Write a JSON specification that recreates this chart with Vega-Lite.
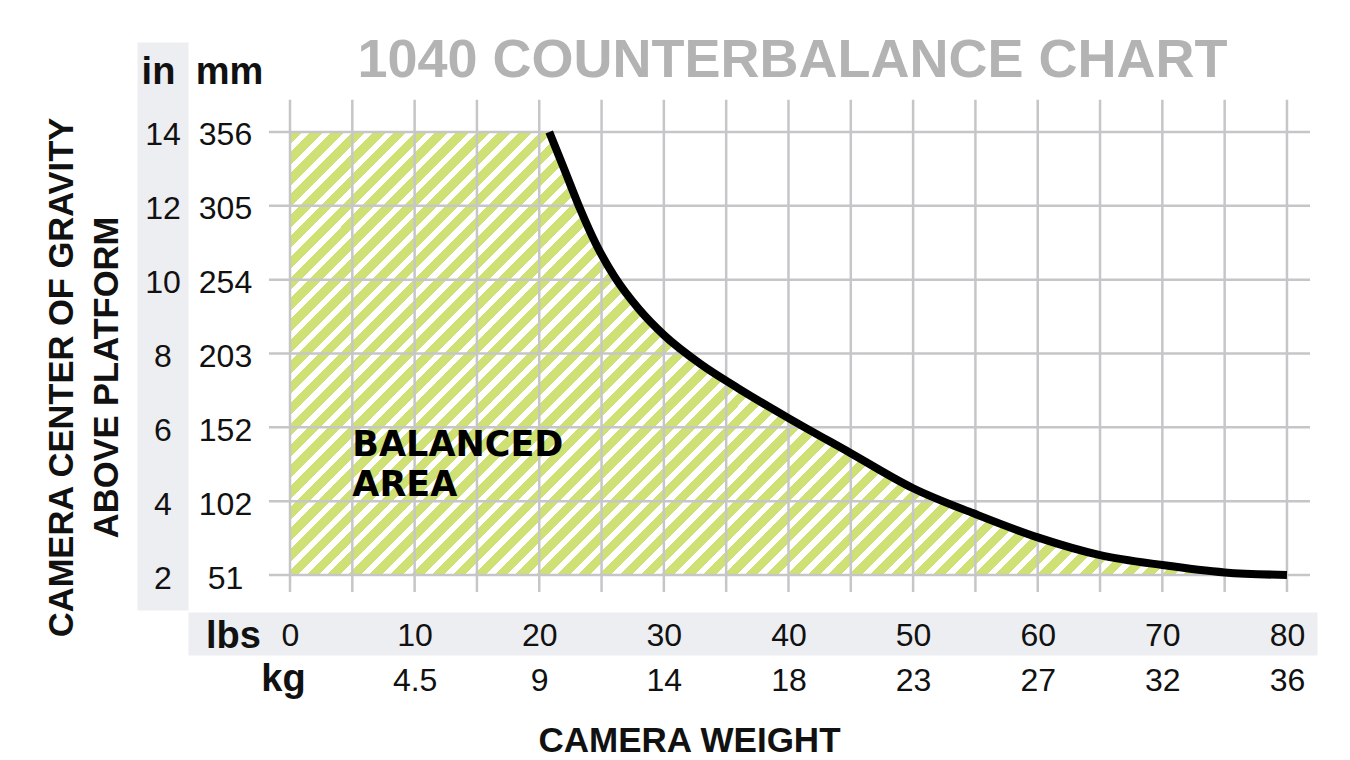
{
  "$schema": "https://vega.github.io/schema/vega-lite/v6.json",
  "width": 1129,
  "height": 568,
  "autosize": {"type": "none"},
  "padding": {"left": 188, "top": 42, "right": 33, "bottom": 150},
  "background": "white",
  "config": {
    "view": {"stroke": null},
    "font": "Liberation Sans",
    "axis": {
      "grid": false, "ticks": false, "tickSize": 0, "domain": false,
      "labelFont": "Liberation Sans", "labelFontSize": 32, "labelColor": "#111111",
      "labelOverlap": false, "labelFlush": false, "labelBound": false,
      "titleFont": "Liberation Sans", "titleColor": "#111111", "titleFontWeight": "bold"
    }
  },
  "title": {
    "text": "1040 COUNTERBALANCE CHART",
    "font": "Liberation Sans", "fontSize": 54, "fontWeight": "bold", "color": "#b3b3b3",
    "anchor": "middle", "frame": "group", "dx": 40, "offset": -46
  },
  "datasets": {
    "curve": [
      {"lbs": 20.8, "inch": 14}, {"lbs": 22, "inch": 13}, {"lbs": 23.3, "inch": 11.9},
      {"lbs": 24.5, "inch": 11}, {"lbs": 26, "inch": 10.1}, {"lbs": 28, "inch": 9.2},
      {"lbs": 30, "inch": 8.5}, {"lbs": 33, "inch": 7.7}, {"lbs": 36, "inch": 7.05},
      {"lbs": 40, "inch": 6.25}, {"lbs": 45, "inch": 5.3}, {"lbs": 50, "inch": 4.35},
      {"lbs": 55, "inch": 3.65}, {"lbs": 60, "inch": 3.02}, {"lbs": 65, "inch": 2.54},
      {"lbs": 70, "inch": 2.27}, {"lbs": 75, "inch": 2.07}, {"lbs": 80, "inch": 2.0}
    ],
    "area": [
      {"lbs": 0, "inch": 14},
      {"lbs": 20.8, "inch": 14}, {"lbs": 22, "inch": 13}, {"lbs": 23.3, "inch": 11.9},
      {"lbs": 24.5, "inch": 11}, {"lbs": 26, "inch": 10.1}, {"lbs": 28, "inch": 9.2},
      {"lbs": 30, "inch": 8.5}, {"lbs": 33, "inch": 7.7}, {"lbs": 36, "inch": 7.05},
      {"lbs": 40, "inch": 6.25}, {"lbs": 45, "inch": 5.3}, {"lbs": 50, "inch": 4.35},
      {"lbs": 55, "inch": 3.65}, {"lbs": 60, "inch": 3.02}, {"lbs": 65, "inch": 2.54},
      {"lbs": 70, "inch": 2.27}, {"lbs": 75, "inch": 2.07}, {"lbs": 80, "inch": 2.0}
    ],
    "vgrid": [
      {"lbs": 0}, {"lbs": 5}, {"lbs": 10}, {"lbs": 15}, {"lbs": 20}, {"lbs": 25}, {"lbs": 30},
      {"lbs": 35}, {"lbs": 40}, {"lbs": 45}, {"lbs": 50}, {"lbs": 55}, {"lbs": 60}, {"lbs": 65},
      {"lbs": 70}, {"lbs": 75}, {"lbs": 80}
    ],
    "hgrid": [
      {"inch": 2}, {"inch": 4}, {"inch": 6}, {"inch": 8}, {"inch": 10}, {"inch": 12}, {"inch": 14}
    ],
    "note": [
      {"lbs": 5, "inch": 5, "label": "BALANCED\nAREA"}
    ]
  },
  "resolve": {"axis": {"x": "independent", "y": "independent"}},
  "layer": [
    {
      "data": {"name": "area"},
      "mark": {
        "type": "area", "interpolate": "monotone",
        "fill": {
          "gradient": "linear", "x1": 0, "y1": 0, "x2": 1.2062, "y2": 0.5359,
          "stops": [
{"offset":0,"color":"#cfe074"},{"offset":0.0087,"color":"#cfe074"},{"offset":0.0087,"color":"#fff"},{"offset":0.0145,"color":"#fff"},
{"offset":0.0145,"color":"#cfe074"},{"offset":0.0232,"color":"#cfe074"},{"offset":0.0232,"color":"#fff"},{"offset":0.0290,"color":"#fff"},
{"offset":0.0290,"color":"#cfe074"},{"offset":0.0377,"color":"#cfe074"},{"offset":0.0377,"color":"#fff"},{"offset":0.0435,"color":"#fff"},
{"offset":0.0435,"color":"#cfe074"},{"offset":0.0522,"color":"#cfe074"},{"offset":0.0522,"color":"#fff"},{"offset":0.0580,"color":"#fff"},
{"offset":0.0580,"color":"#cfe074"},{"offset":0.0667,"color":"#cfe074"},{"offset":0.0667,"color":"#fff"},{"offset":0.0725,"color":"#fff"},
{"offset":0.0725,"color":"#cfe074"},{"offset":0.0812,"color":"#cfe074"},{"offset":0.0812,"color":"#fff"},{"offset":0.0870,"color":"#fff"},
{"offset":0.0870,"color":"#cfe074"},{"offset":0.0957,"color":"#cfe074"},{"offset":0.0957,"color":"#fff"},{"offset":0.1014,"color":"#fff"},
{"offset":0.1014,"color":"#cfe074"},{"offset":0.1101,"color":"#cfe074"},{"offset":0.1101,"color":"#fff"},{"offset":0.1159,"color":"#fff"},
{"offset":0.1159,"color":"#cfe074"},{"offset":0.1246,"color":"#cfe074"},{"offset":0.1246,"color":"#fff"},{"offset":0.1304,"color":"#fff"},
{"offset":0.1304,"color":"#cfe074"},{"offset":0.1391,"color":"#cfe074"},{"offset":0.1391,"color":"#fff"},{"offset":0.1449,"color":"#fff"},
{"offset":0.1449,"color":"#cfe074"},{"offset":0.1536,"color":"#cfe074"},{"offset":0.1536,"color":"#fff"},{"offset":0.1594,"color":"#fff"},
{"offset":0.1594,"color":"#cfe074"},{"offset":0.1681,"color":"#cfe074"},{"offset":0.1681,"color":"#fff"},{"offset":0.1739,"color":"#fff"},
{"offset":0.1739,"color":"#cfe074"},{"offset":0.1826,"color":"#cfe074"},{"offset":0.1826,"color":"#fff"},{"offset":0.1884,"color":"#fff"},
{"offset":0.1884,"color":"#cfe074"},{"offset":0.1971,"color":"#cfe074"},{"offset":0.1971,"color":"#fff"},{"offset":0.2029,"color":"#fff"},
{"offset":0.2029,"color":"#cfe074"},{"offset":0.2116,"color":"#cfe074"},{"offset":0.2116,"color":"#fff"},{"offset":0.2174,"color":"#fff"},
{"offset":0.2174,"color":"#cfe074"},{"offset":0.2261,"color":"#cfe074"},{"offset":0.2261,"color":"#fff"},{"offset":0.2319,"color":"#fff"},
{"offset":0.2319,"color":"#cfe074"},{"offset":0.2406,"color":"#cfe074"},{"offset":0.2406,"color":"#fff"},{"offset":0.2464,"color":"#fff"},
{"offset":0.2464,"color":"#cfe074"},{"offset":0.2551,"color":"#cfe074"},{"offset":0.2551,"color":"#fff"},{"offset":0.2609,"color":"#fff"},
{"offset":0.2609,"color":"#cfe074"},{"offset":0.2696,"color":"#cfe074"},{"offset":0.2696,"color":"#fff"},{"offset":0.2754,"color":"#fff"},
{"offset":0.2754,"color":"#cfe074"},{"offset":0.2841,"color":"#cfe074"},{"offset":0.2841,"color":"#fff"},{"offset":0.2899,"color":"#fff"},
{"offset":0.2899,"color":"#cfe074"},{"offset":0.2986,"color":"#cfe074"},{"offset":0.2986,"color":"#fff"},{"offset":0.3043,"color":"#fff"},
{"offset":0.3043,"color":"#cfe074"},{"offset":0.3130,"color":"#cfe074"},{"offset":0.3130,"color":"#fff"},{"offset":0.3188,"color":"#fff"},
{"offset":0.3188,"color":"#cfe074"},{"offset":0.3275,"color":"#cfe074"},{"offset":0.3275,"color":"#fff"},{"offset":0.3333,"color":"#fff"},
{"offset":0.3333,"color":"#cfe074"},{"offset":0.3420,"color":"#cfe074"},{"offset":0.3420,"color":"#fff"},{"offset":0.3478,"color":"#fff"},
{"offset":0.3478,"color":"#cfe074"},{"offset":0.3565,"color":"#cfe074"},{"offset":0.3565,"color":"#fff"},{"offset":0.3623,"color":"#fff"},
{"offset":0.3623,"color":"#cfe074"},{"offset":0.3710,"color":"#cfe074"},{"offset":0.3710,"color":"#fff"},{"offset":0.3768,"color":"#fff"},
{"offset":0.3768,"color":"#cfe074"},{"offset":0.3855,"color":"#cfe074"},{"offset":0.3855,"color":"#fff"},{"offset":0.3913,"color":"#fff"},
{"offset":0.3913,"color":"#cfe074"},{"offset":0.4000,"color":"#cfe074"},{"offset":0.4000,"color":"#fff"},{"offset":0.4058,"color":"#fff"},
{"offset":0.4058,"color":"#cfe074"},{"offset":0.4145,"color":"#cfe074"},{"offset":0.4145,"color":"#fff"},{"offset":0.4203,"color":"#fff"},
{"offset":0.4203,"color":"#cfe074"},{"offset":0.4290,"color":"#cfe074"},{"offset":0.4290,"color":"#fff"},{"offset":0.4348,"color":"#fff"},
{"offset":0.4348,"color":"#cfe074"},{"offset":0.4435,"color":"#cfe074"},{"offset":0.4435,"color":"#fff"},{"offset":0.4493,"color":"#fff"},
{"offset":0.4493,"color":"#cfe074"},{"offset":0.4580,"color":"#cfe074"},{"offset":0.4580,"color":"#fff"},{"offset":0.4638,"color":"#fff"},
{"offset":0.4638,"color":"#cfe074"},{"offset":0.4725,"color":"#cfe074"},{"offset":0.4725,"color":"#fff"},{"offset":0.4783,"color":"#fff"},
{"offset":0.4783,"color":"#cfe074"},{"offset":0.4870,"color":"#cfe074"},{"offset":0.4870,"color":"#fff"},{"offset":0.4928,"color":"#fff"},
{"offset":0.4928,"color":"#cfe074"},{"offset":0.5014,"color":"#cfe074"},{"offset":0.5014,"color":"#fff"},{"offset":0.5072,"color":"#fff"},
{"offset":0.5072,"color":"#cfe074"},{"offset":0.5159,"color":"#cfe074"},{"offset":0.5159,"color":"#fff"},{"offset":0.5217,"color":"#fff"},
{"offset":0.5217,"color":"#cfe074"},{"offset":0.5304,"color":"#cfe074"},{"offset":0.5304,"color":"#fff"},{"offset":0.5362,"color":"#fff"},
{"offset":0.5362,"color":"#cfe074"},{"offset":0.5449,"color":"#cfe074"},{"offset":0.5449,"color":"#fff"},{"offset":0.5507,"color":"#fff"},
{"offset":0.5507,"color":"#cfe074"},{"offset":0.5594,"color":"#cfe074"},{"offset":0.5594,"color":"#fff"},{"offset":0.5652,"color":"#fff"},
{"offset":0.5652,"color":"#cfe074"},{"offset":0.5739,"color":"#cfe074"},{"offset":0.5739,"color":"#fff"},{"offset":0.5797,"color":"#fff"},
{"offset":0.5797,"color":"#cfe074"},{"offset":0.5884,"color":"#cfe074"},{"offset":0.5884,"color":"#fff"},{"offset":0.5942,"color":"#fff"},
{"offset":0.5942,"color":"#cfe074"},{"offset":0.6029,"color":"#cfe074"},{"offset":0.6029,"color":"#fff"},{"offset":0.6087,"color":"#fff"},
{"offset":0.6087,"color":"#cfe074"},{"offset":0.6174,"color":"#cfe074"},{"offset":0.6174,"color":"#fff"},{"offset":0.6232,"color":"#fff"},
{"offset":0.6232,"color":"#cfe074"},{"offset":0.6319,"color":"#cfe074"},{"offset":0.6319,"color":"#fff"},{"offset":0.6377,"color":"#fff"},
{"offset":0.6377,"color":"#cfe074"},{"offset":0.6464,"color":"#cfe074"},{"offset":0.6464,"color":"#fff"},{"offset":0.6522,"color":"#fff"},
{"offset":0.6522,"color":"#cfe074"},{"offset":0.6609,"color":"#cfe074"},{"offset":0.6609,"color":"#fff"},{"offset":0.6667,"color":"#fff"},
{"offset":0.6667,"color":"#cfe074"},{"offset":0.6754,"color":"#cfe074"},{"offset":0.6754,"color":"#fff"},{"offset":0.6812,"color":"#fff"},
{"offset":0.6812,"color":"#cfe074"},{"offset":0.6899,"color":"#cfe074"},{"offset":0.6899,"color":"#fff"},{"offset":0.6957,"color":"#fff"},
{"offset":0.6957,"color":"#cfe074"},{"offset":0.7043,"color":"#cfe074"},{"offset":0.7043,"color":"#fff"},{"offset":0.7101,"color":"#fff"},
{"offset":0.7101,"color":"#cfe074"},{"offset":0.7188,"color":"#cfe074"},{"offset":0.7188,"color":"#fff"},{"offset":0.7246,"color":"#fff"},
{"offset":0.7246,"color":"#cfe074"},{"offset":0.7333,"color":"#cfe074"},{"offset":0.7333,"color":"#fff"},{"offset":0.7391,"color":"#fff"},
{"offset":0.7391,"color":"#cfe074"},{"offset":0.7478,"color":"#cfe074"},{"offset":0.7478,"color":"#fff"},{"offset":0.7536,"color":"#fff"},
{"offset":0.7536,"color":"#cfe074"},{"offset":0.7623,"color":"#cfe074"},{"offset":0.7623,"color":"#fff"},{"offset":0.7681,"color":"#fff"},
{"offset":0.7681,"color":"#cfe074"},{"offset":0.7768,"color":"#cfe074"},{"offset":0.7768,"color":"#fff"},{"offset":0.7826,"color":"#fff"},
{"offset":0.7826,"color":"#cfe074"},{"offset":0.7913,"color":"#cfe074"},{"offset":0.7913,"color":"#fff"},{"offset":0.7971,"color":"#fff"},
{"offset":0.7971,"color":"#cfe074"},{"offset":0.8058,"color":"#cfe074"},{"offset":0.8058,"color":"#fff"},{"offset":0.8116,"color":"#fff"},
{"offset":0.8116,"color":"#cfe074"},{"offset":0.8203,"color":"#cfe074"},{"offset":0.8203,"color":"#fff"},{"offset":0.8261,"color":"#fff"},
{"offset":0.8261,"color":"#cfe074"},{"offset":0.8348,"color":"#cfe074"},{"offset":0.8348,"color":"#fff"},{"offset":0.8406,"color":"#fff"},
{"offset":0.8406,"color":"#cfe074"},{"offset":0.8493,"color":"#cfe074"},{"offset":0.8493,"color":"#fff"},{"offset":0.8551,"color":"#fff"},
{"offset":0.8551,"color":"#cfe074"},{"offset":0.8638,"color":"#cfe074"},{"offset":0.8638,"color":"#fff"},{"offset":0.8696,"color":"#fff"},
{"offset":0.8696,"color":"#cfe074"},{"offset":0.8783,"color":"#cfe074"},{"offset":0.8783,"color":"#fff"},{"offset":0.8841,"color":"#fff"},
{"offset":0.8841,"color":"#cfe074"},{"offset":0.8928,"color":"#cfe074"},{"offset":0.8928,"color":"#fff"},{"offset":0.8986,"color":"#fff"},
{"offset":0.8986,"color":"#cfe074"},{"offset":0.9072,"color":"#cfe074"},{"offset":0.9072,"color":"#fff"},{"offset":0.9130,"color":"#fff"},
{"offset":0.9130,"color":"#cfe074"},{"offset":0.9217,"color":"#cfe074"},{"offset":0.9217,"color":"#fff"},{"offset":0.9275,"color":"#fff"},
{"offset":0.9275,"color":"#cfe074"},{"offset":0.9362,"color":"#cfe074"},{"offset":0.9362,"color":"#fff"},{"offset":0.9420,"color":"#fff"},
{"offset":0.9420,"color":"#cfe074"},{"offset":0.9507,"color":"#cfe074"},{"offset":0.9507,"color":"#fff"},{"offset":0.9565,"color":"#fff"},
{"offset":0.9565,"color":"#cfe074"},{"offset":0.9652,"color":"#cfe074"},{"offset":0.9652,"color":"#fff"},{"offset":0.9710,"color":"#fff"},
{"offset":0.9710,"color":"#cfe074"},{"offset":0.9797,"color":"#cfe074"},{"offset":0.9797,"color":"#fff"},{"offset":0.9855,"color":"#fff"},
{"offset":0.9855,"color":"#cfe074"},{"offset":0.9942,"color":"#cfe074"},{"offset":0.9942,"color":"#fff"},{"offset":1,"color":"#fff"}
          ]
        }
      },
      "encoding": {
        "x": {
          "field": "lbs", "type": "quantitative",
          "scale": {"domain": [-8.185, 82.41], "nice": false, "zero": false},
          "axis": {
            "orient": "bottom", "labels": false, "values": [0],
            "domain": true, "domainWidth": 43, "domainColor": "#edeef1", "offset": 23.5,
            "title": "lbs", "titleFontSize": 38, "titleAngle": 0, "titleAlign": "center",
            "titleBaseline": "alphabetic", "titleX": 45, "titleY": 13.5
          }
        },
        "y": {
          "field": "inch", "type": "quantitative",
          "scale": {"domain": [1.052, 16.437], "nice": false, "zero": false},
          "axis": {
            "orient": "left", "labels": false, "values": [2],
            "domain": true, "domainWidth": 51, "domainColor": "#edeef1", "offset": 25.5,
            "title": "in", "titleFontSize": 38, "titleAngle": 0, "titleAlign": "center",
            "titleBaseline": "alphabetic", "titleX": -4.5, "titleY": 41
          }
        },
        "y2": {"datum": 2}
      }
    },
    {
      "data": {"name": "vgrid"},
      "mark": {"type": "rule", "color": "#c6c6c9", "strokeWidth": 2.5},
      "encoding": {
        "x": {
          "field": "lbs", "type": "quantitative",
          "scale": {"domain": [-8.185, 82.41], "nice": false, "zero": false},
          "axis": {
            "orient": "bottom", "values": [0, 10, 20, 30, 40, 50, 60, 70, 80], "offset": 23.5,
            "labelAlign": "center", "labelBaseline": "middle", "labelPadding": 2,
            "title": "CAMERA WEIGHT", "titleFontSize": 35, "titleAngle": 0, "titleAlign": "center",
            "titleBaseline": "alphabetic", "titleX": 501, "titleY": 117.5
          }
        },
        "y": {
          "datum": 1.54, "type": "quantitative",
          "scale": {"domain": [1.052, 16.437], "nice": false, "zero": false},
          "axis": {
            "orient": "left", "values": [2, 4, 6, 8, 10, 12, 14], "offset": 25.5,
            "labelAlign": "center", "labelBaseline": "middle", "labelPadding": 0, "labelOffset": 3,
            "title": ["CAMERA CENTER OF GRAVITY", "ABOVE PLATFORM"], "titleFontSize": 34.5,
            "titleAngle": 270, "titleAlign": "center", "titleBaseline": "middle",
            "titleLineHeight": 45, "titleX": -100.5, "titleY": 335
          }
        },
        "y2": {"datum": 14.87}
      }
    },
    {
      "data": {"name": "hgrid"},
      "mark": {"type": "rule", "color": "#c6c6c9", "strokeWidth": 2.5},
      "encoding": {
        "y": {"field": "inch", "type": "quantitative", "axis": null},
        "x": {"datum": -1.69, "type": "quantitative", "axis": null},
        "x2": {"datum": 81.85}
      }
    },
    {
      "data": {"name": "curve"},
      "mark": {"type": "line", "interpolate": "monotone", "color": "#000000", "strokeWidth": 8, "strokeCap": "butt"},
      "encoding": {
        "x": {
          "field": "lbs", "type": "quantitative",
          "axis": {
            "orient": "bottom", "values": [10, 20, 30, 40, 50, 60, 70, 80], "offset": 70,
            "labelAlign": "center", "labelBaseline": "middle", "labelPadding": 0,
            "labelExpr": "datum.value == 10 ? '4.5' : format(round(datum.value * 0.4536), 'd')",
            "title": "kg", "titleFontSize": 38, "titleAngle": 0, "titleAlign": "center",
            "titleBaseline": "alphabetic", "titleX": 95, "titleY": 10
          }
        },
        "y": {
          "field": "inch", "type": "quantitative",
          "axis": {
            "orient": "left", "values": [2, 4, 6, 8, 10, 12, 14], "offset": 0,
            "labelAlign": "center", "labelBaseline": "middle", "labelPadding": -37, "labelOffset": 3,
            "labelExpr": "format(round(datum.value * 25.4), 'd')",
            "title": "mm", "titleFontSize": 38, "titleAngle": 0, "titleAlign": "center",
            "titleBaseline": "alphabetic", "titleX": 41, "titleY": 41
          }
        }
      }
    },
    {
      "data": {"name": "note"},
      "mark": {
        "type": "text", "align": "left", "baseline": "middle", "lineBreak": "\n", "dy": -19,
        "font": "DejaVu Sans", "fontWeight": "bold", "fontSize": 35, "lineHeight": 40, "color": "#000000"
      },
      "encoding": {
        "x": {"field": "lbs", "type": "quantitative", "axis": null},
        "y": {"field": "inch", "type": "quantitative", "axis": null},
        "text": {"field": "label"}
      }
    }
  ]
}
